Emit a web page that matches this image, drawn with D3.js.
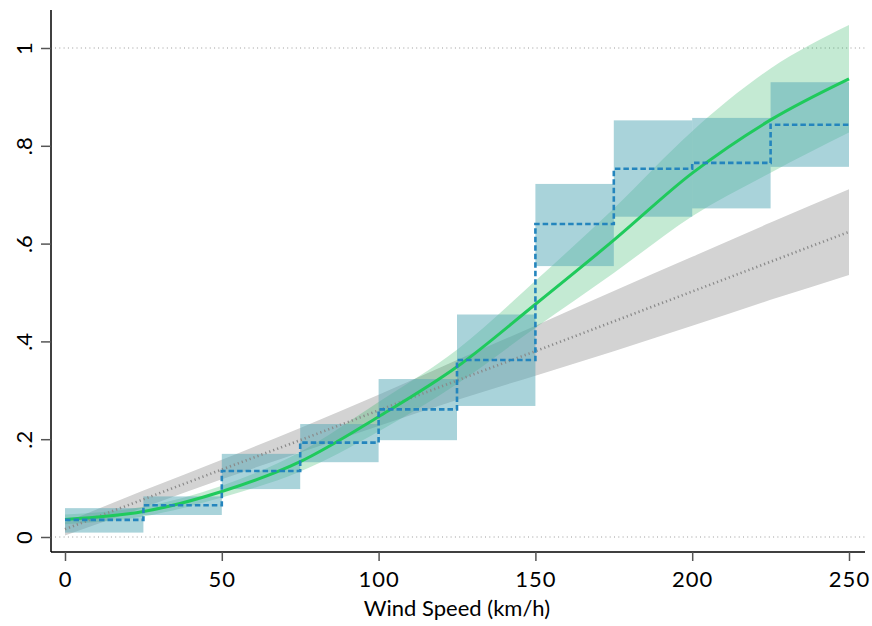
<!DOCTYPE html>
<html><head><meta charset="utf-8">
<script src="https://cdn.jsdelivr.net/npm/d3@7"></script>
<style>body{margin:0;background:#fff}svg{display:block}text{font-family:Lato,"Noto Sans",sans-serif}</style>
</head><body><svg id="c" width="872" height="626"></svg>
<script>
// Bin edges and binned means with intervals
const binStart = [0, 25, 50, 75, 100, 125, 150, 175, 200, 225];
const binEnd   = [25, 50, 75, 100, 125, 150, 175, 200, 225, 250];
const binMean  = [0.035, 0.065, 0.135, 0.193, 0.261, 0.362, 0.640, 0.753, 0.765, 0.843];
const binLow   = [0.009, 0.045, 0.098, 0.153, 0.198, 0.268, 0.554, 0.655, 0.672, 0.757];
const binHigh  = [0.059, 0.083, 0.170, 0.231, 0.323, 0.455, 0.722, 0.852, 0.857, 0.930];

// Evaluation grid for fitted curves
const gridX = [0, 25, 50, 75, 100, 125, 150, 175, 200, 225, 250];
// Green (nonlinear fit)
const greenFit  = [0.036, 0.052, 0.093, 0.154, 0.246, 0.348, 0.476, 0.607, 0.744, 0.853, 0.937];
const greenLow  = [0.026, 0.042, 0.081, 0.134, 0.216, 0.313, 0.428, 0.540, 0.656, 0.745, 0.827];
const greenHigh = [0.046, 0.062, 0.105, 0.174, 0.276, 0.383, 0.524, 0.672, 0.830, 0.958, 1.047];
// Gray (linear fit)
const grayFit  = [0.016, 0.077, 0.138, 0.198, 0.259, 0.320, 0.380, 0.441, 0.502, 0.563, 0.624];
const grayLow  = [0.003, 0.060, 0.118, 0.173, 0.227, 0.280, 0.330, 0.380, 0.432, 0.485, 0.536];
const grayHigh = [0.030, 0.095, 0.158, 0.223, 0.291, 0.362, 0.432, 0.503, 0.573, 0.643, 0.711];

const xTicks = [0, 50, 100, 150, 200, 250];
const yTicks = [0, 0.2, 0.4, 0.6, 0.8, 1];
const yTickLabels = ["0", ".2", ".4", ".6", ".8", "1"];
const gridLines = [0, 1];
const xTitle = "Wind Speed (km/h)";

const svg = d3.select("#c");
const x = d3.scaleLinear().domain([0, 250]).range([65, 849]);
const y = d3.scaleLinear().domain([0, 1]).range([537, 48]);

// gridlines
svg.append("g").selectAll("line").data(gridLines).join("line")
  .attr("x1", 55).attr("x2", 866).attr("y1", d => y(d)).attr("y2", d => y(d))
  .attr("stroke", "#9a9a9a").attr("stroke-width", 1).attr("stroke-dasharray", "1,3.3");

const area = (lo, hi) => d3.area().x((d, i) => x(gridX[i])).y0((d, i) => y(lo[i])).y1((d, i) => y(hi[i])).curve(d3.curveMonotoneX);
const line = (v) => d3.line().x((d, i) => x(gridX[i])).y((d, i) => y(v[i])).curve(d3.curveMonotoneX);

// gray band
svg.append("path").attr("d", area(grayLow, grayHigh)(gridX)).attr("fill", "#d3d3d3");
// green band
svg.append("path").attr("d", area(greenLow, greenHigh)(gridX)).attr("fill", "rgba(20,170,80,0.25)");
// boxes
svg.append("g").selectAll("rect").data(binStart).join("rect")
  .attr("x", (d, i) => x(binStart[i])).attr("width", (d, i) => x(binEnd[i]) - x(binStart[i]))
  .attr("y", (d, i) => y(binHigh[i])).attr("height", (d, i) => y(binLow[i]) - y(binHigh[i]))
  .attr("fill", "rgba(83,167,181,0.5)");
// gray dotted line
svg.append("path").attr("d", line(grayFit)(gridX)).attr("fill", "none")
  .attr("stroke", "#8a8a8a").attr("stroke-width", 2.6).attr("stroke-dasharray", "1.2,3");
// green line
svg.append("path").attr("d", line(greenFit)(gridX)).attr("fill", "none")
  .attr("stroke", "#1fca5c").attr("stroke-width", 3);
// step line
const stepPts = binStart.map((s, i) => [s, binMean[i]]).concat([[binEnd[binEnd.length - 1], binMean[binMean.length - 1]]]);
svg.append("path").attr("d", d3.line().x(d => x(d[0])).y(d => y(d[1])).curve(d3.curveStepAfter)(stepPts))
  .attr("fill", "none").attr("stroke", "#2485bd").attr("stroke-width", 2.6).attr("stroke-dasharray", "5.5,3");

// axes
const xAxis = svg.append("g").attr("transform", "translate(0,552)")
  .call(d3.axisBottom(x).tickValues(xTicks).tickSize(9).tickPadding(10).tickFormat(d3.format("d")));
xAxis.select(".domain").attr("d", "M51,0H865").attr("stroke", "#000").attr("stroke-width", 1.5);
xAxis.selectAll(".tick line").attr("stroke", "#555").attr("stroke-width", 1.5);
xAxis.selectAll(".tick text").attr("font-size", 22).attr("fill", "#000").attr("font-family", "Lato")
  .attr("letter-spacing", 1);

const yAxis = svg.append("g").attr("transform", "translate(51,0)")
  .call(d3.axisLeft(y).tickValues(yTicks).tickSize(10).tickFormat((d, i) => yTickLabels[i]));
yAxis.select(".domain").attr("d", "M0,10V552").attr("stroke", "#000").attr("stroke-width", 1.5);
yAxis.selectAll(".tick line").attr("stroke", "#555").attr("stroke-width", 1.5);
yAxis.selectAll(".tick text").attr("font-size", 22).attr("fill", "#000").attr("font-family", "Lato")
  .attr("x", null).attr("dy", null)
  .attr("transform", "translate(-19,0) rotate(-90)").attr("text-anchor", "middle");

svg.append("text").attr("x", x(125)).attr("y", 616).attr("text-anchor", "middle")
  .attr("font-size", 22).attr("fill", "#000").text(xTitle);
</script></body></html>
